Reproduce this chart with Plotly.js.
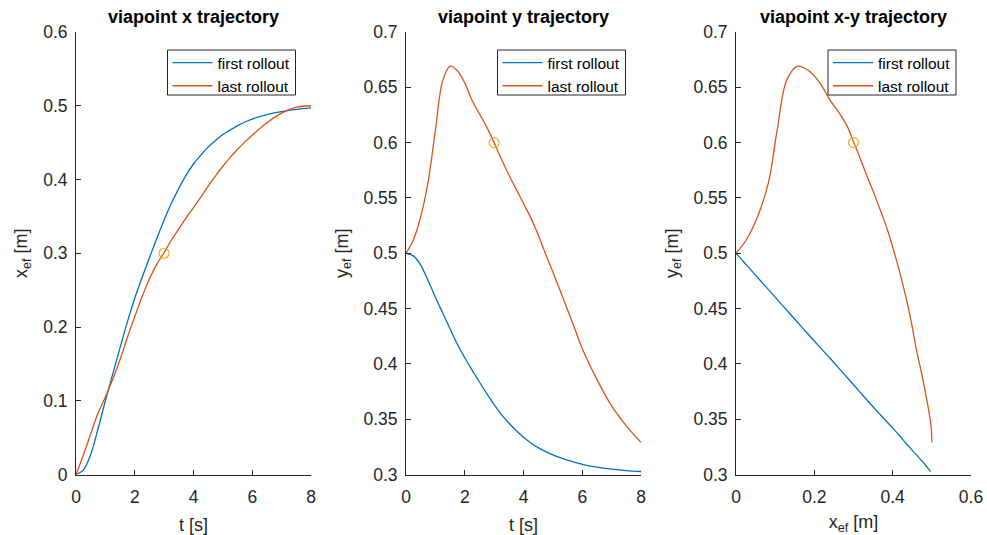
<!DOCTYPE html>
<html>
<head>
<meta charset="utf-8">
<script src="https://cdn.plot.ly/plotly-3.0.1.min.js"></script>
<style>html,body{margin:0;padding:0;background:#fff;}#chart{width:987px;height:535px;}</style>
</head>
<body>
<div id="chart"></div>
<script>
// time samples [s]
const t = [0,0.25,0.5,0.75,1,1.25,1.5,1.75,2,2.25,2.5,2.75,3,3.25,3.5,3.75,4,4.25,4.5,4.75,5,5.25,5.5,5.75,6,6.5,7,7.5,8];
// first rollout
const firstX = [0,0.006,0.027,0.062,0.1,0.136,0.172,0.207,0.239,0.267,0.294,0.32,0.345,0.368,0.388,0.406,0.421,0.433,0.444,0.453,0.461,0.467,0.473,0.478,0.482,0.488,0.492,0.495,0.497];
const firstY = [0.5,0.4976,0.4893,0.4754,0.4603,0.446,0.4317,0.4178,0.4055,0.3944,0.3836,0.3731,0.3631,0.3542,0.3466,0.3397,0.3337,0.3285,0.3243,0.3207,0.3178,0.3152,0.3129,0.311,0.3092,0.3066,0.3048,0.3035,0.3027];
// last rollout
const lastX = [0,0.026,0.055,0.083,0.105,0.129,0.156,0.186,0.214,0.241,0.265,0.285,0.301,0.318,0.333,0.348,0.362,0.376,0.391,0.405,0.418,0.43,0.441,0.451,0.46,0.477,0.49,0.498,0.5];
const lastY = [0.5,0.512,0.533,0.564,0.611,0.656,0.669,0.665,0.654,0.638,0.626,0.614,0.6,0.585,0.571,0.558,0.545,0.532,0.5165,0.4995,0.483,0.466,0.449,0.4315,0.414,0.386,0.362,0.344,0.329];
// via point
const viaT = [3];
const viaX = [0.3];
const viaY = [0.6];
const seriesNames = ['first rollout','last rollout'];
const titles = ['viapoint x trajectory','viapoint y trajectory','viapoint x-y trajectory'];

const BLUE = '#0072BD', ORANGE = '#D95319', YELLOW = '#EDB120';
const FONT = 'Liberation Sans, Arial, Helvetica, sans-serif';
const AX = '#262626';

function line(x, y, name, color, xa, ya, lg) {
  return {x: x, y: y, name: name, type: 'scatter', mode: 'lines',
    line: {color: color, width: 1.3, shape: 'spline', smoothing: 1},
    xaxis: xa, yaxis: ya, legend: lg, hoverinfo: 'skip'};
}
function via(x, y, xa, ya) {
  return {x: x, y: y, type: 'scatter', mode: 'markers', showlegend: false,
    marker: {symbol: 'circle-open', size: 10, color: YELLOW, line: {width: 1.2, color: YELLOW}},
    xaxis: xa, yaxis: ya, hoverinfo: 'skip'};
}

const data = [
  line(t, firstX, seriesNames[0], BLUE, 'x', 'y', 'legend'),
  line(t, lastX, seriesNames[1], ORANGE, 'x', 'y', 'legend'),
  via(viaT, viaX, 'x', 'y'),
  line(t, firstY, seriesNames[0], BLUE, 'x2', 'y2', 'legend2'),
  line(t, lastY, seriesNames[1], ORANGE, 'x2', 'y2', 'legend2'),
  via(viaT, viaY, 'x2', 'y2'),
  line(firstX, firstY, seriesNames[0], BLUE, 'x3', 'y3', 'legend3'),
  line(lastX, lastY, seriesNames[1], ORANGE, 'x3', 'y3', 'legend3'),
  via(viaX, viaY, 'x3', 'y3')
];

const W = 987, H = 535;
const ydom = [1 - 474.5/H, 1 - 32/H];
const xdoms = [[76/W, 311/W], [406/W, 641/W], [736/W, 971/W]];
const legendLeft = [167.5, 497.5, 828];

function axis(dom, range, dtick, title, anchor, isX) {
  return {domain: dom, range: range, dtick: dtick, tick0: 0, anchor: anchor,
    showline: true, linecolor: AX, linewidth: 1, mirror: false,
    ticks: 'inside', ticklen: 5, tickwidth: 1, tickcolor: AX,
    showgrid: false, zeroline: false,
    ticklabelstandoff: isX ? 6 : 4,
    tickfont: {family: FONT, size: 17.5, color: AX},
    title: {text: title, font: {family: FONT, size: 18, color: AX}, standoff: isX ? 12 : 10},
    fixedrange: true};
}
function legend(x) {
  return {x: x / W, y: 1 - 46/H, xanchor: 'left', yanchor: 'top',
    bgcolor: 'rgba(0,0,0,0)', borderwidth: 0,
    font: {family: FONT, size: 15.5, color: '#000'}, itemwidth: 40,
    tracegroupgap: 0};
}

const layout = {
  width: W, height: H,
  margin: {l: 0, r: 0, t: 0, b: 0},
  paper_bgcolor: '#ffffff', plot_bgcolor: '#ffffff',
  font: {family: FONT, color: AX},
  xaxis: axis(xdoms[0], [0, 8], 2, 't [s]', 'y', true),
  yaxis: axis(ydom, [0, 0.6], 0.1, 'x<sub>ef</sub> [m]', 'x', false),
  xaxis2: axis(xdoms[1], [0, 8], 2, 't [s]', 'y2', true),
  yaxis2: axis(ydom, [0.3, 0.7], 0.05, 'y<sub>ef</sub> [m]', 'x2', false),
  xaxis3: axis(xdoms[2], [0, 0.6], 0.2, 'x<sub>ef</sub> [m]', 'y3', true),
  yaxis3: axis(ydom, [0.3, 0.7], 0.05, 'y<sub>ef</sub> [m]', 'x3', false),
  legend: legend(legendLeft[0]),
  legend2: legend(legendLeft[1]),
  legend3: legend(legendLeft[2]),
  shapes: legendLeft.map(x0 => ({
    type: 'rect', xref: 'paper', yref: 'paper', layer: 'above',
    x0: x0 / W, x1: (x0 + 128) / W, y0: 1 - 95/H, y1: 1 - 50/H,
    fillcolor: '#ffffff', line: {color: AX, width: 1}
  })),
  annotations: titles.map((txt, i) => ({
    text: '<b>' + txt + '</b>', xref: 'paper', yref: 'paper',
    x: (xdoms[i][0] + xdoms[i][1]) / 2, y: 1 - 17/H,
    xanchor: 'center', yanchor: 'middle', showarrow: false,
    font: {family: FONT, size: 18, color: '#000'}
  }))
};

Plotly.newPlot('chart', data, layout, {staticPlot: true, displayModeBar: false});
</script>
</body>
</html>
